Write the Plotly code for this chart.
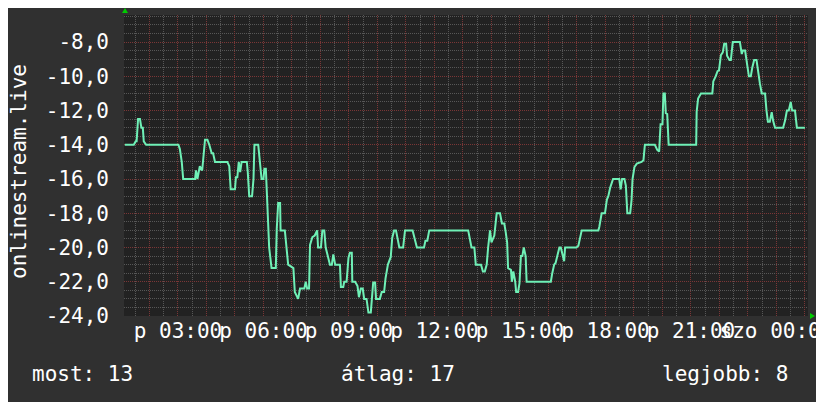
import plotly.graph_objects as go

# ---- data ----
# minutes since Friday 00:00
minutes = [68, 87, 91, 93, 96, 100, 103, 106, 108, 113, 181, 184, 188, 191, 216, 218, 221, 226, 231, 237,
           242, 246, 251, 254, 258, 284, 288, 291, 300, 302, 305, 308, 311, 314, 325, 327, 330, 336, 339, 341,
           349, 353, 356, 360, 362, 365, 368, 372, 377, 386, 388, 391, 395, 396, 405, 409, 412, 423, 426, 433,
           437, 446, 449, 452, 456, 458, 463, 468, 473, 475, 481, 484, 488, 491, 496, 500, 504, 507, 511, 521,
           523, 528, 530, 535, 539, 542, 546, 547, 553, 558, 561, 565, 569, 572, 577, 581, 586, 588, 591, 595,
           597, 605, 609, 614, 617, 622, 625, 628, 631, 635, 639, 642, 646, 654, 658, 674, 679, 683, 698, 701,
           705, 709, 791, 795, 798, 804, 807, 818, 822, 826, 830, 833, 837, 840, 846, 851, 858, 862, 867, 870,
           873, 875, 881, 883, 886, 890, 892, 896, 899, 902, 905, 908, 912, 914, 965, 968, 972, 975, 979, 983,
           986, 990, 993, 995, 1019, 1023, 1026, 1030, 1065, 1067, 1072, 1079, 1083, 1086, 1090, 1096, 1109, 1112,
           1115, 1120, 1123, 1126, 1132, 1135, 1137, 1141, 1146, 1156, 1160, 1163, 1184, 1189, 1193, 1196, 1200,
           1202, 1205, 1207, 1210, 1213, 1271, 1272, 1275, 1281, 1305, 1307, 1312, 1316, 1319, 1323, 1327, 1330,
           1334, 1336, 1341, 1344, 1348, 1363, 1367, 1369, 1374, 1376, 1379, 1382, 1386, 1389, 1393, 1398, 1402,
           1405, 1409, 1416, 1419, 1422, 1426, 1430, 1433, 1437, 1454, 1458, 1462, 1466, 1470, 1473, 1479, 1483,
           1500]
values = [-14.0, -14.0, -13.8, -13.8, -12.5, -12.5, -13.0, -13.0, -13.8, -14.0, -14.0, -14.25, -15.0, -16.0,
          -16.0, -15.5, -16.0, -15.25, -15.5, -13.7, -13.7, -14.0, -14.5, -14.5, -15.0, -15.0, -15.25, -16.6,
          -16.6, -15.9, -15.9, -15.0, -15.6, -15.0, -15.0, -15.6, -17.0, -17.0, -16.0, -14.0, -14.0, -15.2,
          -16.0, -16.0, -15.4, -15.4, -17.2, -20.0, -21.2, -21.2, -18.9, -17.4, -17.4, -19.0, -19.0, -20.0,
          -21.0, -21.2, -22.6, -23.0, -22.4, -22.4, -22.0, -22.4, -22.4, -19.85, -19.4, -19.3, -19.0, -20.0,
          -20.0, -19.0, -19.0, -20.0, -20.5, -21.0, -21.0, -20.4, -21.0, -21.0, -22.3, -22.3, -22.0, -22.0,
          -20.6, -20.3, -20.3, -22.0, -22.0, -22.25, -22.9, -22.4, -22.4, -23.0, -23.0, -23.8, -23.8, -23.0,
          -22.05, -22.05, -23.0, -23.0, -22.6, -22.6, -21.8, -21.0, -20.8, -20.55, -19.45, -19.0, -19.0, -19.5,
          -20.0, -20.0, -19.0, -19.0, -19.5, -20.0, -20.0, -19.6, -19.6, -19.0, -19.0, -19.5, -20.0, -20.0,
          -21.0, -21.0, -21.4, -21.4, -21.0, -20.0, -19.0, -19.7, -19.3, -18.0, -18.0, -18.6, -18.6, -19.1,
          -19.7, -21.2, -21.3, -22.0, -21.4, -22.0, -22.6, -22.6, -22.1, -20.5, -20.5, -20.0, -20.5, -22.0,
          -22.0, -21.5, -21.0, -20.9, -20.4, -20.0, -20.0, -20.5, -20.8, -20.0, -20.0, -19.9, -19.5, -19.0,
          -19.0, -18.8, -18.0, -18.0, -17.2, -17.0, -16.5, -16.0, -16.0, -16.6, -16.0, -16.0, -16.4, -18.0,
          -18.0, -17.2, -16.0, -15.3, -15.1, -15.0, -14.9, -14.0, -14.0, -14.3, -14.4, -12.8, -12.8, -11.0,
          -11.0, -12.15, -12.2, -14.0, -14.0, -12.07, -11.3, -11.0, -11.0, -10.3, -10.0, -9.7, -9.65, -8.76,
          -8.6, -8.1, -8.1, -8.8, -9.05, -9.05, -8.0, -8.0, -8.7, -8.5, -8.5, -8.8, -9.45, -10.0, -10.0, -9.5,
          -9.05, -9.05, -9.9, -10.4, -11.0, -11.0, -12.0, -12.65, -12.65, -12.1, -12.6, -13.0, -13.0, -12.6,
          -12.0, -12.0, -11.5, -12.0, -12.0, -13.0, -13.0]

x_start, x_end = 66.4, 1506.4          # 24 h window (minutes)
hour_ticks = list(range(120, 1501, 60))
label_ticks = [180, 360, 540, 720, 900, 1080, 1260, 1440]
label_texts = ["p 03:00", "p 06:00", "p 09:00", "p 12:00", "p 15:00", "p 18:00", "p 21:00", "szo 00:00"]
y_ticks = [-24, -22, -20, -18, -16, -14, -12, -10, -8]
y_labels = ["-24,0", "-22,0", "-20,0", "-18,0", "-16,0", "-14,0", "-12,0", "-10,0", "-8,0"]
y_min, y_max = -24, -6.42
axis_title = "onlinestream.live"
stat_names = ["most", "átlag", "legjobb"]
stat_values = [13, 17, 8]

# ---- layout constants ----
# the page places the figure 8px from the top-left corner of the window
OFF = 8
W, H = 824 - OFF, 402 - OFF
L, R, T, B = 124 - OFF, 16, 15 - OFF, 86
PW, PH = W - L - R, H - T - B
FONT = "DejaVu Sans Mono"
FS = 21
TXT = "#ffffff"


def px(x, y):
    """window pixel -> paper fraction"""
    x, y = x - OFF, y - OFF
    return (x - L) / PW, (H - B - y) / PH


tick_text_full = [label_texts[label_ticks.index(t)] if t in label_ticks else "" for t in hour_ticks]

fig = go.Figure()
fig.add_trace(go.Scatter(x=minutes, y=values, mode="lines",
                         line=dict(color="#6ff0b6", width=2), hoverinfo="skip", showlegend=False))

MAJOR = "#7a3636"
MINOR = "#575757"
DOT = "1px,1px"

fig.update_layout(
    width=W, height=H, autosize=False,
    margin=dict(l=L, r=R, t=T, b=B, pad=0, autoexpand=False),
    paper_bgcolor="#303030", plot_bgcolor="#222222",
    font=dict(family=FONT, size=FS, color=TXT),
    showlegend=False,
    xaxis=dict(range=[x_start, x_end], tickmode="array", tickvals=hour_ticks, ticktext=tick_text_full,
               tickangle=0, ticklabeloverflow="allow", showgrid=True, gridcolor=MAJOR, griddash=DOT,
               gridwidth=1, zeroline=False, showline=False, ticks="", ticklabelstandoff=0,
               automargin=False, tickfont=dict(family=FONT, size=FS, color=TXT),
               minor=dict(tickmode="linear", tick0=30, dtick=60, showgrid=True, gridcolor=MINOR,
                          griddash=DOT, gridwidth=1)),
    yaxis=dict(range=[y_min, y_max], tickmode="array", tickvals=y_ticks, ticktext=y_labels,
               showgrid=True, gridcolor=MAJOR, griddash=DOT, gridwidth=1, zeroline=False, showline=False,
               ticks="", ticklabelstandoff=14, automargin=False,
               tickfont=dict(family=FONT, size=FS, color=TXT),
               minor=dict(tickmode="linear", tick0=0, dtick=0.5, showgrid=True, gridcolor=MINOR,
                          griddash=DOT, gridwidth=1)),
)

ann = []
ax, ay = px(19, 172)
ann.append(dict(text=axis_title, x=ax, y=ay, xref="paper", yref="paper", textangle=-90,
                showarrow=False, font=dict(family=FONT, size=FS, color=TXT), xanchor="center", yanchor="middle"))
stat_x = [30, 339, 660]
for name, val, sx in zip(stat_names, stat_values, stat_x):
    qx, qy = px(sx, 374)
    ann.append(dict(text=f"{name}: {val}", x=qx, y=qy, xref="paper", yref="paper", showarrow=False,
                    xanchor="left", yanchor="middle", font=dict(family=FONT, size=FS, color=TXT)))
fig.update_layout(annotations=ann)

# green direction arrows (decoration)
def tri(points):
    pts = [px(a, b) for a, b in points]
    return "M " + " L ".join(f"{p[0]:.5f},{p[1]:.5f}" for p in pts) + " Z"

fig.update_layout(shapes=[
    dict(type="path", xref="paper", yref="paper", path=tri([(122, 13), (128, 13), (125, 8)]),
         fillcolor="#00cc00", line=dict(width=0)),
    dict(type="path", xref="paper", yref="paper", path=tri([(810, 313), (810, 319), (815, 316)]),
         fillcolor="#00cc00", line=dict(width=0)),
])

fig.write_html("out.html")
